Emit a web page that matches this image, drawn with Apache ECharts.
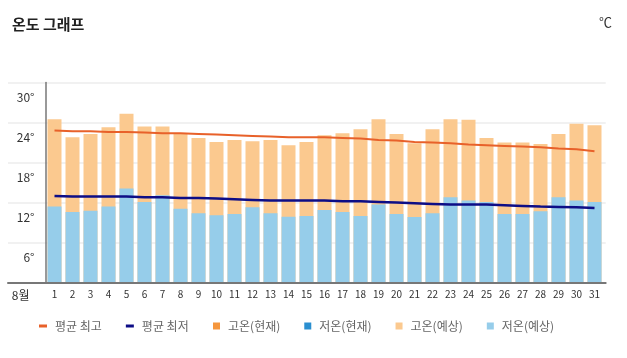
<!DOCTYPE html>
<html>
<head>
<meta charset="utf-8">
<script src="https://cdn.jsdelivr.net/npm/echarts@6/dist/echarts.min.js"></script>
<style>
html,body{margin:0;padding:0;background:#fff;}
#c{width:627px;height:358px;}
</style>
</head>
<body>
<div id="c"></div>
<script>
const days = ['1','2','3','4','5','6','7','8','9','10','11','12','13','14','15','16','17','18','19','20','21','22','23','24','25','26','27','28','29','30','31'];
const highForecast = [24.5,21.8,22.3,23.3,25.3,23.4,23.4,22.4,21.7,21.1,21.4,21.2,21.4,20.6,21.1,22.1,22.4,23.0,24.5,22.3,20.9,23.0,24.5,24.4,21.7,21.0,21.0,20.8,22.3,23.8,23.6];
const lowForecast = [11.4,10.6,10.8,11.4,14.1,12.1,13.1,11.1,10.4,10.1,10.3,11.3,10.4,9.9,10.0,10.9,10.6,10.0,11.7,10.3,9.85,10.4,12.8,12.3,12.1,10.3,10.3,10.7,12.8,12.3,12.1];
const highCurrent = [];
const lowCurrent = [];
const avgHigh = [22.8,22.7,22.7,22.6,22.6,22.5,22.4,22.4,22.3,22.2,22.1,22.0,21.9,21.8,21.8,21.8,21.7,21.6,21.4,21.3,21.1,21.0,20.9,20.7,20.6,20.5,20.4,20.3,20.1,20.0,19.7];
const avgLow = [13.0,12.9,12.9,12.9,12.9,12.8,12.8,12.7,12.7,12.6,12.5,12.4,12.3,12.3,12.3,12.3,12.2,12.2,12.1,12.0,11.9,11.8,11.7,11.7,11.7,11.6,11.5,11.4,11.35,11.3,11.2];
const yTicks = {min:0, max:30, interval:6};
const monthLabel = '8월';

const FONT = '"Noto Sans CJK KR", "Noto Sans", sans-serif';
const chart = echarts.init(document.getElementById('c'));
chart.setOption({
  animation:false,
  textStyle:{fontFamily:FONT},
  title:[
    {text:'온도 그래프', left:7, top:12, textStyle:{fontSize:15, fontWeight:'bold', color:'#222', fontFamily:FONT}},
    {text:'℃', right:10, top:11, textStyle:{fontSize:13, fontWeight:'normal', color:'#333', fontFamily:FONT}}
  ],
  legend:[
    {left:39, top:320, padding:0, itemWidth:8, itemHeight:3, itemGap:24, icon:'rect',
     data:['평균 최고','평균 최저'],
     textStyle:{fontSize:12, color:'#666', padding:[0,0,0,3]}},
    {left:213, top:320, padding:0, itemWidth:7, itemHeight:7, itemGap:24, icon:'rect',
     data:['고온(현재)','저온(현재)','고온(예상)','저온(예상)'],
     textStyle:{fontSize:12, color:'#666', padding:[0,0,0,3]}}
  ],
  grid:[
    {left:45.5, right:23.5, top:82.5, bottom:75.3},
    {left:8, right:21.3, top:82.5, bottom:75.3}
  ],
  xAxis:[
    {type:'category', gridIndex:0, data:days, axisLine:{show:false}, axisTick:{show:false},
     axisLabel:{fontSize:10, color:'#333', margin:7}},
    {type:'value', gridIndex:1, min:0, max:1, z:5, axisLine:{show:true, lineStyle:{color:'#777', width:2}},
     axisTick:{show:false}, axisLabel:{show:false}, splitLine:{show:false}}
  ],
  yAxis:[
    {type:'value', gridIndex:0, min:yTicks.min, max:yTicks.max, interval:yTicks.interval, z:5,
     axisLine:{show:true, lineStyle:{color:'#777', width:1.5}}, axisTick:{show:false}, splitLine:{show:false},
     axisLabel:{fontSize:12, color:'#333', margin:11, verticalAlign:'top', padding:[9,0,0,0],
       formatter:function(v){ return v===0 ? '{m|'+monthLabel+'}' : v+'°'; },
       rich:{m:{fontSize:12, color:'#333', padding:[-2,5,0,0]}}}},
    {type:'value', gridIndex:1, min:yTicks.min, max:yTicks.max, interval:yTicks.interval,
     axisLine:{show:false}, axisTick:{show:false}, axisLabel:{show:false},
     splitLine:{show:true, lineStyle:{color:'#ececec', width:1.5}}}
  ],
  series:[
    {name:'고온(예상)', type:'bar', data:highForecast, barWidth:14, barGap:'-100%', itemStyle:{color:'#fbc98f'}},
    {name:'저온(예상)', type:'bar', data:lowForecast, barWidth:14, barGap:'-100%', itemStyle:{color:'#96cdea'}},
    {name:'고온(현재)', type:'bar', data:highCurrent, barWidth:14, barGap:'-100%', itemStyle:{color:'#f5963d'}},
    {name:'저온(현재)', type:'bar', data:lowCurrent, barWidth:14, barGap:'-100%', itemStyle:{color:'#2a8fd0'}},
    {name:'평균 최고', type:'line', data:avgHigh, showSymbol:false, z:6, lineStyle:{color:'#e8612a', width:2}, itemStyle:{color:'#e8612a'}},
    {name:'평균 최저', type:'line', data:avgLow, showSymbol:false, z:6, lineStyle:{color:'#0d0d86', width:2.5}, itemStyle:{color:'#0d0d86'}}
  ]
});
</script>
</body>
</html>
